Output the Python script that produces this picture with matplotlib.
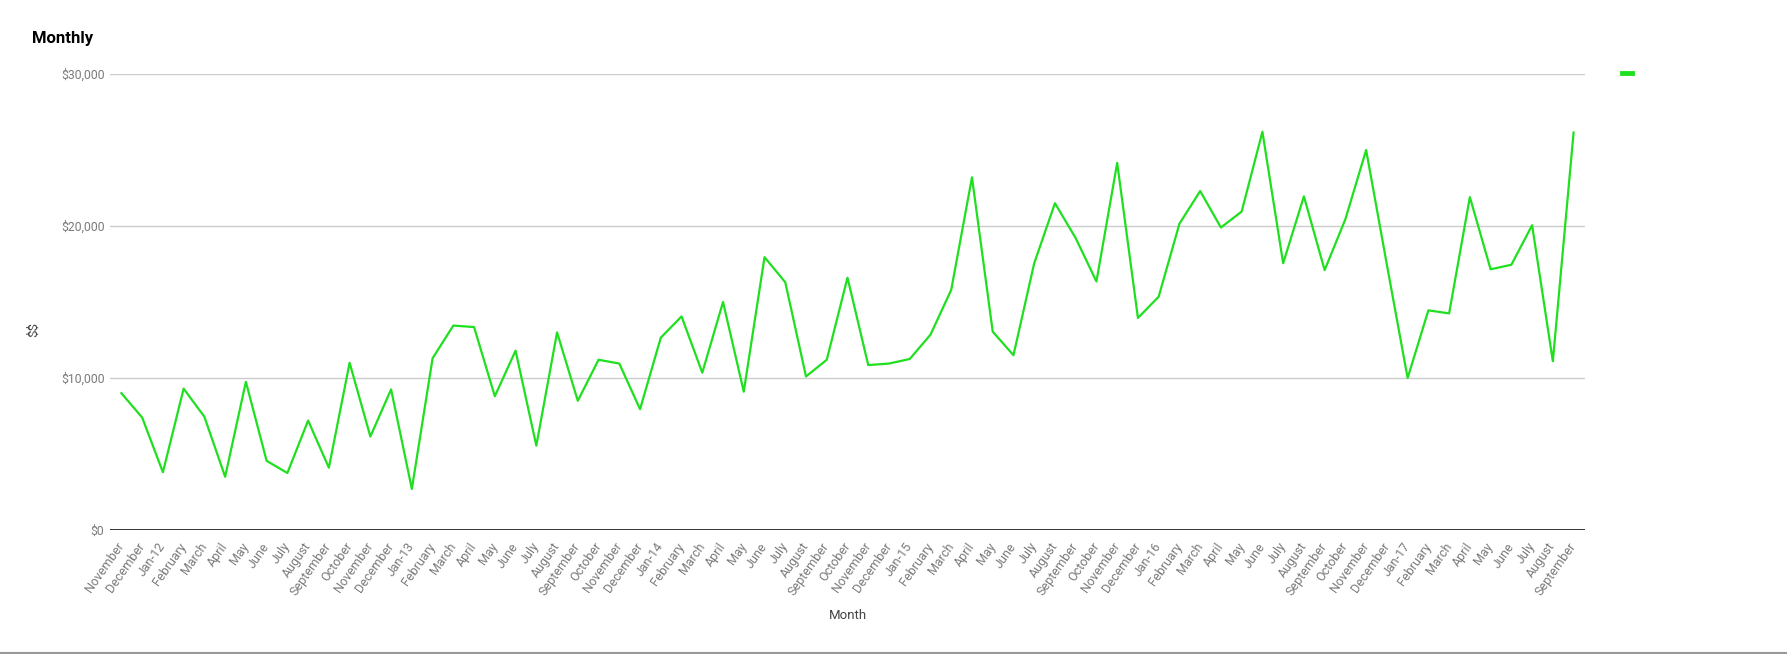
import numpy as np
import matplotlib.pyplot as plt
from matplotlib.lines import Line2D
from matplotlib.ticker import FuncFormatter

# mesi: da novembre 2011 a settembre 2017
mesi = ['November', 'December', 'Jan-12', 'February', 'March', 'April', 'May', 'June', 'July',
        'August', 'September', 'October', 'November', 'December', 'Jan-13', 'February', 'March',
        'April', 'May', 'June', 'July', 'August', 'September', 'October', 'November', 'December',
        'Jan-14', 'February', 'March', 'April', 'May', 'June', 'July', 'August', 'September',
        'October', 'November', 'December', 'Jan-15', 'February', 'March', 'April', 'May', 'June',
        'July', 'August', 'September', 'October', 'November', 'December', 'Jan-16', 'February',
        'March', 'April', 'May', 'June', 'July', 'August', 'September', 'October', 'November',
        'December', 'Jan-17', 'February', 'March', 'April', 'May', 'June', 'July', 'August',
        'September']

# valori mensili in $
valori = [9000, 7400, 3800, 9300, 7450, 3500, 9750, 4550, 3750, 7200, 4100, 11000,
          6150, 9250, 2700, 11300, 13450, 13350, 8800, 11800, 5550, 13000, 8500, 11200,
          10950, 7950, 12650, 14050, 10350, 15000, 9100, 17950, 16300, 10100, 11200, 16600,
          10850, 10950, 11250, 12850, 15800, 23200, 13050, 11500, 17550, 21500, 19200, 16350,
          24150, 13950, 15350, 20150, 22300, 19900, 20950, 26200, 17550, 21950, 17100, 20450,
          25000, 17450, 10000, 14450, 14250, 21900, 17150, 17450, 20050, 11100, 26150]

verde = '#1fe01f'
grigio = '#7a7a7a'

plt.rcParams['font.family'] = ['Roboto', 'DejaVu Sans']
plt.rcParams['text.parse_math'] = False

fig = plt.figure(figsize=(17.87, 6.54), dpi=100)
ax = fig.add_axes([110 / 1787, 1 - 530 / 654, (1585 - 110) / 1787, (530 - 74) / 654])

x = np.arange(len(mesi))
ax.plot(x, valori, color=verde, linewidth=1.6)

ax.set_xlim(-0.55, len(mesi) - 0.45)
ax.set_ylim(0, 30000)
ax.set_yticks([0, 10000, 20000, 30000])
ax.yaxis.set_major_formatter(FuncFormatter(lambda v, p: '${:,.0f}'.format(v)))
ax.grid(axis='y', color='#cccccc', linewidth=1)
ax.set_axisbelow(True)
ax.axhline(0, color='#333333', linewidth=1.4)

for s in ax.spines.values():
    s.set_visible(False)

ax.set_xticks(x)
ax.set_xticklabels(mesi, rotation=55, ha='right', rotation_mode='anchor', va='center')
ax.tick_params(axis='x', length=0, pad=10, labelsize=9, labelcolor=grigio)
ax.tick_params(axis='y', length=0, pad=4, labelsize=8.8, labelcolor=grigio)

ax.set_xlabel('Month', fontsize=9.5, color='#444444', labelpad=8)
ax.set_ylabel('$$', fontsize=9.5, color='#444444')
ax.yaxis.set_label_coords(-70 / 1475, 0.44)

fig.text(32 / 1787, 1 - 38 / 654, 'Monthly', fontsize=12, fontweight='bold', va='center', ha='left')

# legenda senza testo
fig.legend(handles=[Line2D([], [], color=verde, linewidth=3.5)], labels=[''],
           loc='center left', bbox_to_anchor=(1622 / 1787, 1 - 74 / 654),
           frameon=False, handlelength=0.75, handletextpad=0, borderpad=0, borderaxespad=0)

# bordo in basso
fig.add_artist(Line2D([0, 1], [1.5 / 654, 1.5 / 654], color='#999999', linewidth=1.5))

fig.savefig('out.png', dpi=100)
